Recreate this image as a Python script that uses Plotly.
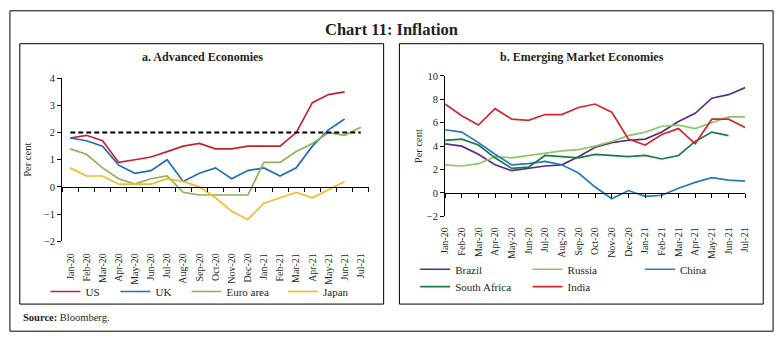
import plotly.graph_objects as go
import numpy as np

months = ["Jan-20", "Feb-20", "Mar-20", "Apr-20", "May-20", "Jun-20", "Jul-20", "Aug-20",
          "Sep-20", "Oct-20", "Nov-20", "Dec-20", "Jan-21", "Feb-21", "Mar-21", "Apr-21",
          "May-21", "Jun-21", "Jul-21"]

# a. Advanced Economies (per cent)
us = [1.8, 1.9, 1.7, 0.9, 1.0, 1.1, 1.3, 1.5, 1.6, 1.4, 1.4, 1.5, 1.5, 1.5, 2.0, 3.1, 3.4, 3.5]
uk = [1.8, 1.7, 1.5, 0.8, 0.5, 0.6, 1.0, 0.2, 0.5, 0.7, 0.3, 0.6, 0.7, 0.4, 0.7, 1.5, 2.1, 2.5]
euro = [1.4, 1.2, 0.7, 0.3, 0.1, 0.3, 0.4, -0.2, -0.3, -0.3, -0.3, -0.3, 0.9, 0.9, 1.3, 1.6, 2.0, 1.9, 2.2]
japan = [0.7, 0.4, 0.4, 0.1, 0.1, 0.1, 0.3, 0.2, 0.0, -0.4, -0.9, -1.2, -0.6, -0.4, -0.2, -0.4, -0.1, 0.2]
target = [2.0] * 19

# b. Emerging Market Economies (per cent)
brazil = [4.2, 4.0, 3.3, 2.4, 1.9, 2.1, 2.3, 2.4, 3.1, 3.9, 4.3, 4.5, 4.6, 5.2, 6.1, 6.8, 8.1, 8.4, 9.0]
russia = [2.4, 2.3, 2.5, 3.1, 3.0, 3.2, 3.4, 3.6, 3.7, 4.0, 4.4, 4.9, 5.2, 5.7, 5.8, 5.5, 6.0, 6.5, 6.5]
china = [5.4, 5.2, 4.3, 3.3, 2.4, 2.5, 2.7, 2.4, 1.7, 0.5, -0.5, 0.2, -0.3, -0.2, 0.4, 0.9, 1.3, 1.1, 1.0]
safrica = [4.5, 4.6, 4.1, 3.0, 2.1, 2.2, 3.2, 3.1, 3.0, 3.3, 3.2, 3.1, 3.2, 2.9, 3.2, 4.4, 5.2, 4.9]
india = [7.6, 6.6, 5.8, 7.2, 6.3, 6.2, 6.7, 6.7, 7.3, 7.6, 6.9, 4.6, 4.1, 5.0, 5.5, 4.2, 6.3, 6.3, 5.6]

yticks_a = [-2, -1, 0, 1, 2, 3, 4]
yticks_b = [-2, 0, 2, 4, 6, 8, 10]

W, H = 784, 343
SERIF = "Liberation Serif"
TXT = "#231f20"


def fx(p):
    return p / W


def fy(p):
    return 1 - p / H


idx = list(range(len(months)))

fig = go.Figure()

left = [("US", us, "#c8232c"), ("UK", uk, "#1f6fb4"), ("Euro area", euro, "#8db35a"), ("Japan", japan, "#f7b928")]
right = [("Brazil", brazil, "#5b2d82", "x2"), ("Russia", russia, "#8cc864", "x2"), ("China", china, "#2878be", "x2"),
         ("South Africa", safrica, "#1a7a46", "x2"), ("India", india, "#d2282d", "x4")]

legend_pos = {
    "US": (52, 296), "UK": (123, 296), "Euro area": (195, 296), "Japan": (293, 296),
    "Brazil": (427, 273), "Russia": (541, 273), "China": (655, 273),
    "South Africa": (427, 291), "India": (541, 291),
}


def legend_cfg(name):
    lx, ly = legend_pos[name]
    return dict(x=fx(lx - 12), y=fy(ly), xanchor="left", yanchor="middle",
                bgcolor="rgba(0,0,0,0)", borderwidth=0, itemwidth=30,
                font=dict(family=SERIF, size=11, color=TXT))


lk = 0
layout_legends = {}
for name, vals, col in left:
    lk += 1
    key = "legend" if lk == 1 else f"legend{lk}"
    fig.add_trace(go.Scatter(x=idx[:len(vals)], y=vals, name=name, mode="lines",
                             line=dict(color=col, width=1.7), xaxis="x", yaxis="y",
                             legend=key))
    layout_legends[key] = legend_cfg(name)

fig.add_trace(go.Scatter(x=idx, y=target, mode="lines", showlegend=False,
                         line=dict(color="black", width=2, dash="5px,3px"), xaxis="x3", yaxis="y"))

for name, vals, col, xa in right:
    lk += 1
    key = f"legend{lk}"
    fig.add_trace(go.Scatter(x=idx[:len(vals)], y=vals, name=name, mode="lines",
                             line=dict(color=col, width=1.7), xaxis=xa, yaxis="y2",
                             legend=key))
    layout_legends[key] = legend_cfg(name)

# geometry
dom_xa = [fx(57), fx(368)]
dom_ya = [fy(244), fy(75.7)]
dom_xb = [fx(445.3), fx(749.7)]
dom_yb = [fy(218.3), fy(73.3)]
ra = [-2, 4]
rb = [-2, 10]
zero_a = dom_ya[0] + (0 - ra[0]) / (ra[1] - ra[0]) * (dom_ya[1] - dom_ya[0])
zero_b = dom_yb[0] + (0 - rb[0]) / (rb[1] - rb[0]) * (dom_yb[1] - dom_yb[0])

tickfont = dict(family=SERIF, size=10.5, color=TXT)
xlabfont = dict(family=SERIF, size=10, color=TXT)

common_y = dict(showline=True, linecolor="black", linewidth=1, ticks="outside", ticklen=4,
                tickcolor="black", showgrid=False, zeroline=False, tickfont=tickfont)

fig.update_layout(
    width=W, height=H, margin=dict(l=0, r=0, t=0, b=0),
    paper_bgcolor="white", plot_bgcolor="white",
    xaxis=dict(domain=dom_xa, range=[-0.5, 18.5], anchor="y", tickmode="array", tickvals=idx,
               ticktext=months, tickangle=-90, tickfont=xlabfont, showline=False, showgrid=False,
               zeroline=False, ticks="outside", ticklen=7, tickcolor="rgba(0,0,0,0)"),
    xaxis3=dict(overlaying="x", range=[-0.5, 18.5], anchor="free", position=zero_a,
                tickmode="array", tickvals=list(np.arange(-0.5, 19, 1.0)), showticklabels=False,
                showline=True, linecolor="black", linewidth=1, ticks="outside", ticklen=4,
                tickcolor="black", showgrid=False, zeroline=False),
    yaxis=dict(domain=dom_ya, range=ra, anchor="x", tickmode="array", tickvals=yticks_a,
               title=dict(text="Per cent", font=dict(family=SERIF, size=10.5, color=TXT), standoff=10),
               **common_y),
    xaxis2=dict(domain=dom_xb, range=[0, 18], anchor="y2", tickmode="array", tickvals=idx,
                ticktext=months, tickangle=-90, tickfont=xlabfont, showline=False, showgrid=False,
                zeroline=False, ticks="outside", ticklen=6, tickcolor="rgba(0,0,0,0)"),
    xaxis4=dict(overlaying="x2", range=[0, 18], anchor="free", position=zero_b,
                tickmode="array", tickvals=idx, showticklabels=False,
                showline=True, linecolor="black", linewidth=1, ticks="outside", ticklen=4,
                tickcolor="black", showgrid=False, zeroline=False),
    yaxis2=dict(domain=dom_yb, range=rb, anchor="x2", tickmode="array", tickvals=yticks_b,
                title=dict(text="Per cent", font=dict(family=SERIF, size=10.5, color=TXT), standoff=2),
                **common_y),
    **layout_legends,
)

# frames
for (x0, y0, x1, y1) in [(4, 6, 778, 337), (14, 40, 383, 309), (399, 40, 768, 309)]:
    fig.add_shape(type="rect", xref="paper", yref="paper", x0=fx(x0), y0=fy(y0), x1=fx(x1), y1=fy(y1),
                  line=dict(color="black", width=1), fillcolor="rgba(0,0,0,0)")

# titles
fig.add_annotation(text="<b>Chart 11: Inflation</b>", x=fx(391), y=fy(25), xref="paper", yref="paper",
                   showarrow=False, font=dict(family=SERIF, size=16.5, color=TXT), xanchor="center", yanchor="middle")
fig.add_annotation(text="<b>a. Advanced Economies</b>", x=fx(199), y=fy(54), xref="paper", yref="paper",
                   showarrow=False, font=dict(family=SERIF, size=12, color=TXT), xanchor="center", yanchor="middle")
fig.add_annotation(text="<b>b. Emerging Market Economies</b>", x=fx(584), y=fy(54), xref="paper", yref="paper",
                   showarrow=False, font=dict(family=SERIF, size=12, color=TXT), xanchor="center", yanchor="middle")
fig.add_annotation(text="<b>Source:</b> Bloomberg.", x=fx(15), y=fy(323), xref="paper", yref="paper",
                   showarrow=False, font=dict(family=SERIF, size=10.5, color=TXT), xanchor="left", yanchor="middle")

fig.write_html("out.html")
